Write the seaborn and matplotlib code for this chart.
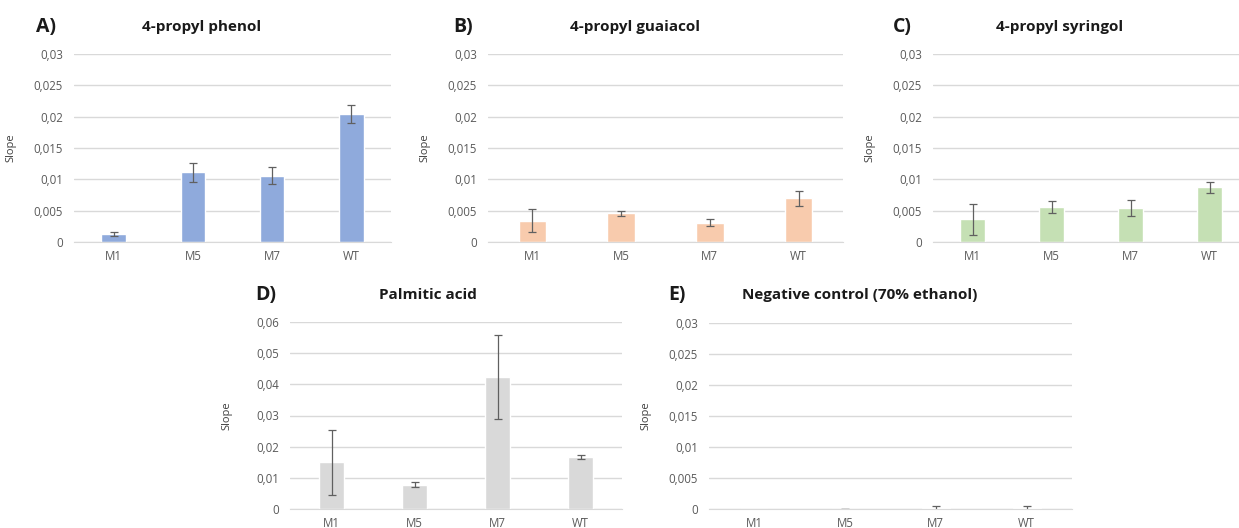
import numpy as np
import matplotlib
matplotlib.use("Agg")
import matplotlib.pyplot as plt
from matplotlib.ticker import FuncFormatter
import seaborn as sns

# strains on the x axis
strains = ["M1", "M5", "M7", "WT"]

# mean slopes and error
phenol = [0.0013, 0.0111, 0.0106, 0.0204]
phenol_err = [0.0003, 0.0015, 0.0013, 0.0014]

guaiacol = [0.0034, 0.0046, 0.0031, 0.0070]
guaiacol_err = [0.0018, 0.0004, 0.0006, 0.0012]

syringol = [0.0036, 0.0056, 0.0054, 0.0087]
syringol_err = [0.0025, 0.0009, 0.0013, 0.0009]

palmitic = [0.0150, 0.0078, 0.0424, 0.0167]
palmitic_err = [0.0105, 0.0008, 0.0134, 0.0005]

control = [0.0, 0.0, 0.0001, 0.0001]
control_err = [np.nan, 0.00003, 0.0004, 0.0004]

sns.set_style("white")
plt.rcParams["font.family"] = ["Open Sans", "DejaVu Sans"]

W, H = 1239, 528
fig = plt.figure(figsize=(W / 100, H / 100), dpi=100)


def px_axes(x0, y0, x1, y1):
    return fig.add_axes([x0 / W, 1 - y1 / H, (x1 - x0) / W, (y1 - y0) / H])


def comma(v, pos):
    return f"{v:g}".replace(".", ",")


panels = [
    # letter, title, values, errors, colour, box, ymax, letter x, title x, text y
    ("A)", "4-propyl phenol", phenol, phenol_err, "#8FAADC", (74, 54, 391, 242), 0.03, 36, 202, 27),
    ("B)", "4-propyl guaiacol", guaiacol, guaiacol_err, "#F8CBAD", (488, 54, 843, 242), 0.03, 453, 635, 27),
    ("C)", "4-propyl syringol", syringol, syringol_err, "#C5E0B4", (933, 54, 1249, 242), 0.03, 893, 1060, 27),
    ("D)", "Palmitic acid", palmitic, palmitic_err, "#D9D9D9", (290, 322, 622, 509), 0.06, 255, 428, 295),
    ("E)", "Negative control (70% ethanol)", control, control_err, "#D9D9D9", (709, 323, 1072, 509), 0.03, 668, 860, 295),
]

for letter, title, vals, errs, col, box, ymax, lx, tx, ty in panels:
    ax = px_axes(*box)
    sns.barplot(x=strains, y=vals, order=strains, color=col, saturation=1,
                width=0.31, errorbar=None, ax=ax)
    ax.errorbar(strains, vals, yerr=errs, fmt="none", ecolor="#606060",
                elinewidth=0.9, capsize=3, capthick=0.9)
    ax.set_ylim(0, ymax)
    ax.set_xlim(-0.5, 3.5)
    ax.set_yticks(np.linspace(0, ymax, 7))
    ax.yaxis.set_major_formatter(FuncFormatter(comma))
    ax.grid(axis="y", color="#D9D9D9", linewidth=1)
    ax.set_axisbelow(True)
    for s in ["top", "right", "left"]:
        ax.spines[s].set_visible(False)
    ax.spines["bottom"].set_color("#D9D9D9")
    ax.tick_params(axis="both", length=0, labelsize=8.3, colors="#595959")
    ax.tick_params(axis="x", pad=6)
    ax.tick_params(axis="y", pad=8)
    ax.set_ylabel("Slope", fontsize=8, color="#404040")
    wpx = box[2] - box[0]
    ax.yaxis.set_label_coords(-58 / wpx, 0.5)
    ax.set_xlabel("")
    fig.text(lx / W, 1 - ty / H, letter, fontsize=14, fontweight="bold",
             ha="left", va="center", color="#1a1a1a")
    fig.text(tx / W, 1 - ty / H, title, fontsize=11, fontweight="bold",
             ha="center", va="center", color="#1a1a1a")

fig.savefig("out.png", dpi=100)
